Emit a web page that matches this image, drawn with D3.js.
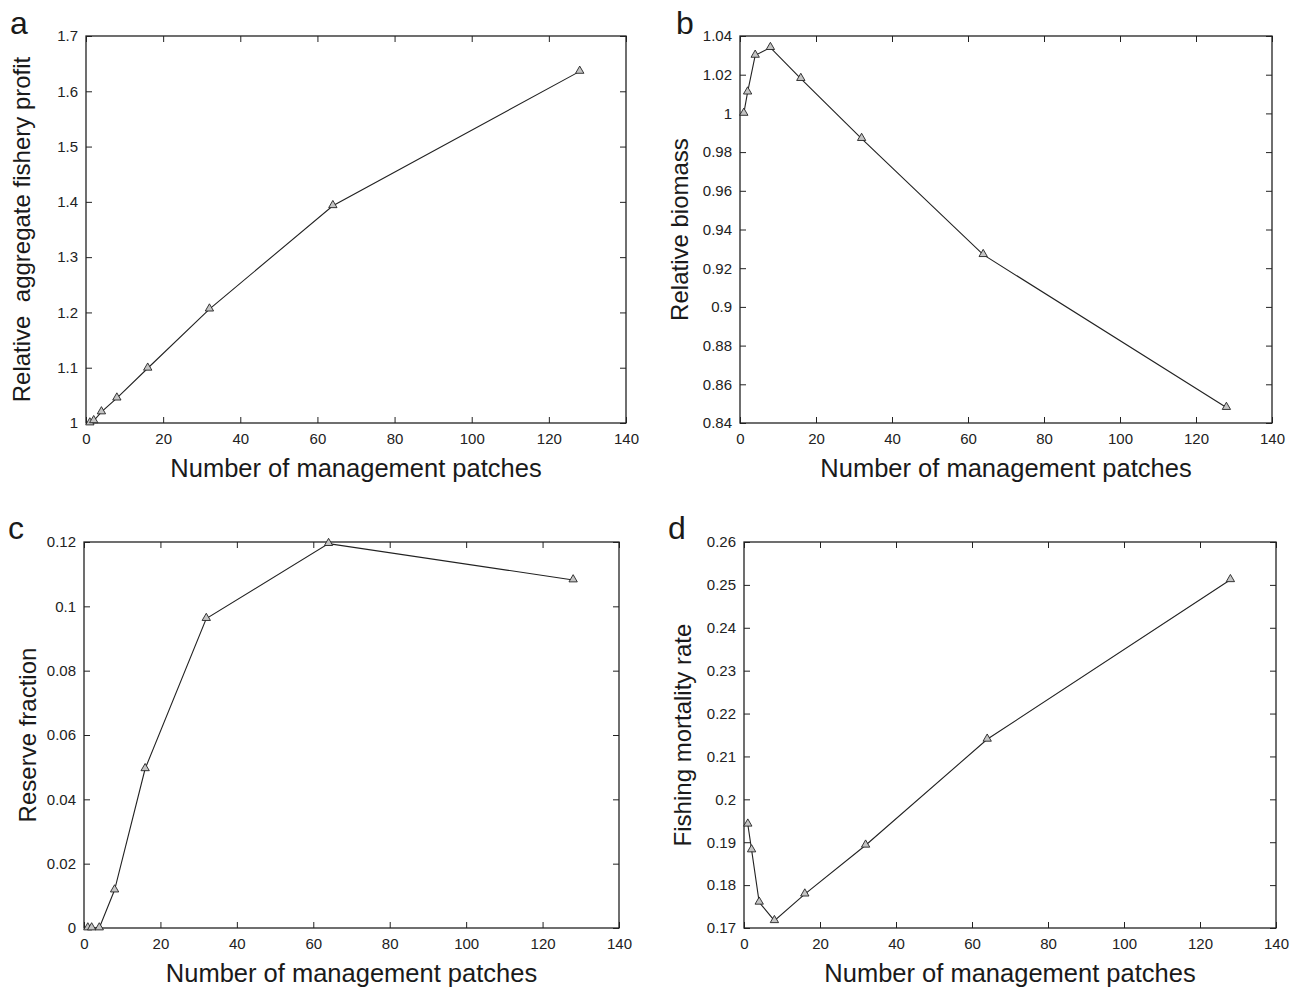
<!DOCTYPE html>
<html>
<head>
<meta charset="utf-8">
<script src="https://cdn.jsdelivr.net/npm/d3@7"></script>
<style>
  html, body { margin: 0; padding: 0; background: #fff; }
  svg { display: block; font-family: "Liberation Sans", Arial, Helvetica, sans-serif; }
</style>
</head>
<body>
<svg id="fig" width="1301" height="989"></svg>
<script>
// Number of management patches (shared x values for all four panels)
const patches = [1, 2, 4, 8, 16, 32, 64, 128];

// Panel series
const profit    = [1.000, 1.004, 1.020, 1.045, 1.099, 1.206, 1.393, 1.636];
const biomass   = [1.000, 1.011, 1.030, 1.034, 1.018, 0.987, 0.927, 0.848];
const reserve   = [0, 0, 0, 0.0118, 0.0495, 0.0962, 0.1195, 0.1082];
const mortality = [0.1942, 0.1882, 0.1760, 0.1717, 0.1779, 0.1893, 0.2140, 0.2512];

// Tick values
const xTicks = [0, 20, 40, 60, 80, 100, 120, 140];
const profitTicks = [1, 1.1, 1.2, 1.3, 1.4, 1.5, 1.6, 1.7];
const biomassTicks = [0.84, 0.86, 0.88, 0.9, 0.92, 0.94, 0.96, 0.98, 1, 1.02, 1.04];
const reserveTicks = [0, 0.02, 0.04, 0.06, 0.08, 0.1, 0.12];
const mortalityTicks = [0.17, 0.18, 0.19, 0.2, 0.21, 0.22, 0.23, 0.24, 0.25, 0.26];

// Text
const xTitle = "Number of management patches";
const panelLetters = ["a", "b", "c", "d"];
const yTitles = ["Relative  aggregate fishery profit", "Relative biomass", "Reserve fraction", "Fishing mortality rate"];

const svg = d3.select("#fig");
const fmt = v => String(+v.toFixed(3));

const panels = [
  { letter: panelLetters[0], yTitle: yTitles[0], values: profit,    yTicks: profitTicks,    box: { l: 86,  r: 626,  t: 36,  b: 423 }, letterPos: [10, 34],  yTitleX: 30 },
  { letter: panelLetters[1], yTitle: yTitles[1], values: biomass,   yTicks: biomassTicks,   box: { l: 740, r: 1272, t: 36,  b: 423 }, letterPos: [676, 34], yTitleX: 688 },
  { letter: panelLetters[2], yTitle: yTitles[2], values: reserve,   yTicks: reserveTicks,   box: { l: 84,  r: 619,  t: 542, b: 928 }, letterPos: [8, 539],  yTitleX: 36 },
  { letter: panelLetters[3], yTitle: yTitles[3], values: mortality, yTicks: mortalityTicks, box: { l: 744, r: 1276, t: 542, b: 928 }, letterPos: [668, 539], yTitleX: 691 }
];

const tickLen = 6;
const triangle = d3.symbol().type(d3.symbolTriangle).size(30);

panels.forEach(p => {
  const { l, r, t, b } = p.box;
  const x = d3.scaleLinear().domain([0, 140]).range([l, r]);
  const y = d3.scaleLinear().domain(d3.extent(p.yTicks)).range([b, t]);
  const g = svg.append("g");

  // Bottom axis with inward ticks
  const bottom = g.append("g").attr("transform", `translate(0,${b})`)
    .call(d3.axisBottom(x).tickValues(xTicks).tickSizeInner(-tickLen).tickSizeOuter(0).tickPadding(10).tickFormat(fmt));
  // Mirror ticks on top
  const top = g.append("g").attr("transform", `translate(0,${t})`)
    .call(d3.axisTop(x).tickValues(xTicks).tickSizeInner(-tickLen).tickSizeOuter(0).tickFormat(""));
  // Left axis with inward ticks
  const left = g.append("g").attr("transform", `translate(${l},0)`)
    .call(d3.axisLeft(y).tickValues(p.yTicks).tickSizeInner(-tickLen).tickSizeOuter(0).tickPadding(8).tickFormat(fmt));
  // Mirror ticks on right
  const right = g.append("g").attr("transform", `translate(${r},0)`)
    .call(d3.axisRight(y).tickValues(p.yTicks).tickSizeInner(-tickLen).tickSizeOuter(0).tickFormat(""));

  [bottom, top, left, right].forEach(a => {
    a.select(".domain").remove();
    a.selectAll("line").attr("stroke", "#222").attr("stroke-width", 1);
    a.selectAll("text").attr("font-size", 15).attr("fill", "#222")
      .attr("font-family", "\"Liberation Sans\", Arial, sans-serif");
  });

  // Frame
  g.append("rect").attr("x", l).attr("y", t).attr("width", r - l).attr("height", b - t)
    .attr("fill", "none").attr("stroke", "#222").attr("stroke-width", 1.3);

  // Series line
  const pts = patches.map((n, i) => [n, p.values[i]]);
  g.append("path").datum(pts)
    .attr("fill", "none").attr("stroke", "#222").attr("stroke-width", 1.1)
    .attr("d", d3.line().x(d => x(d[0])).y(d => y(d[1])));

  // Triangle markers
  g.selectAll(".mk").data(pts).join("path").attr("class", "mk")
    .attr("transform", d => `translate(${x(d[0])},${y(d[1]) - 0.5})`)
    .attr("d", triangle)
    .attr("fill", "#c4c4c4").attr("stroke", "#222").attr("stroke-width", 0.9);

  // Axis titles
  g.append("text").attr("x", (l + r) / 2).attr("y", b + 54)
    .attr("text-anchor", "middle").attr("font-size", 25.5).attr("fill", "#1a1a1a")
    .text(xTitle);
  g.append("text")
    .attr("transform", `translate(${p.yTitleX},${(t + b) / 2}) rotate(-90)`)
    .attr("text-anchor", "middle").attr("font-size", 24).attr("fill", "#1a1a1a")
    .style("white-space", "pre")
    .text(p.yTitle);

  // Panel letter
  g.append("text").attr("x", p.letterPos[0]).attr("y", p.letterPos[1])
    .attr("font-size", 32).attr("fill", "#1a1a1a").text(p.letter);
});
</script>
</body>
</html>
